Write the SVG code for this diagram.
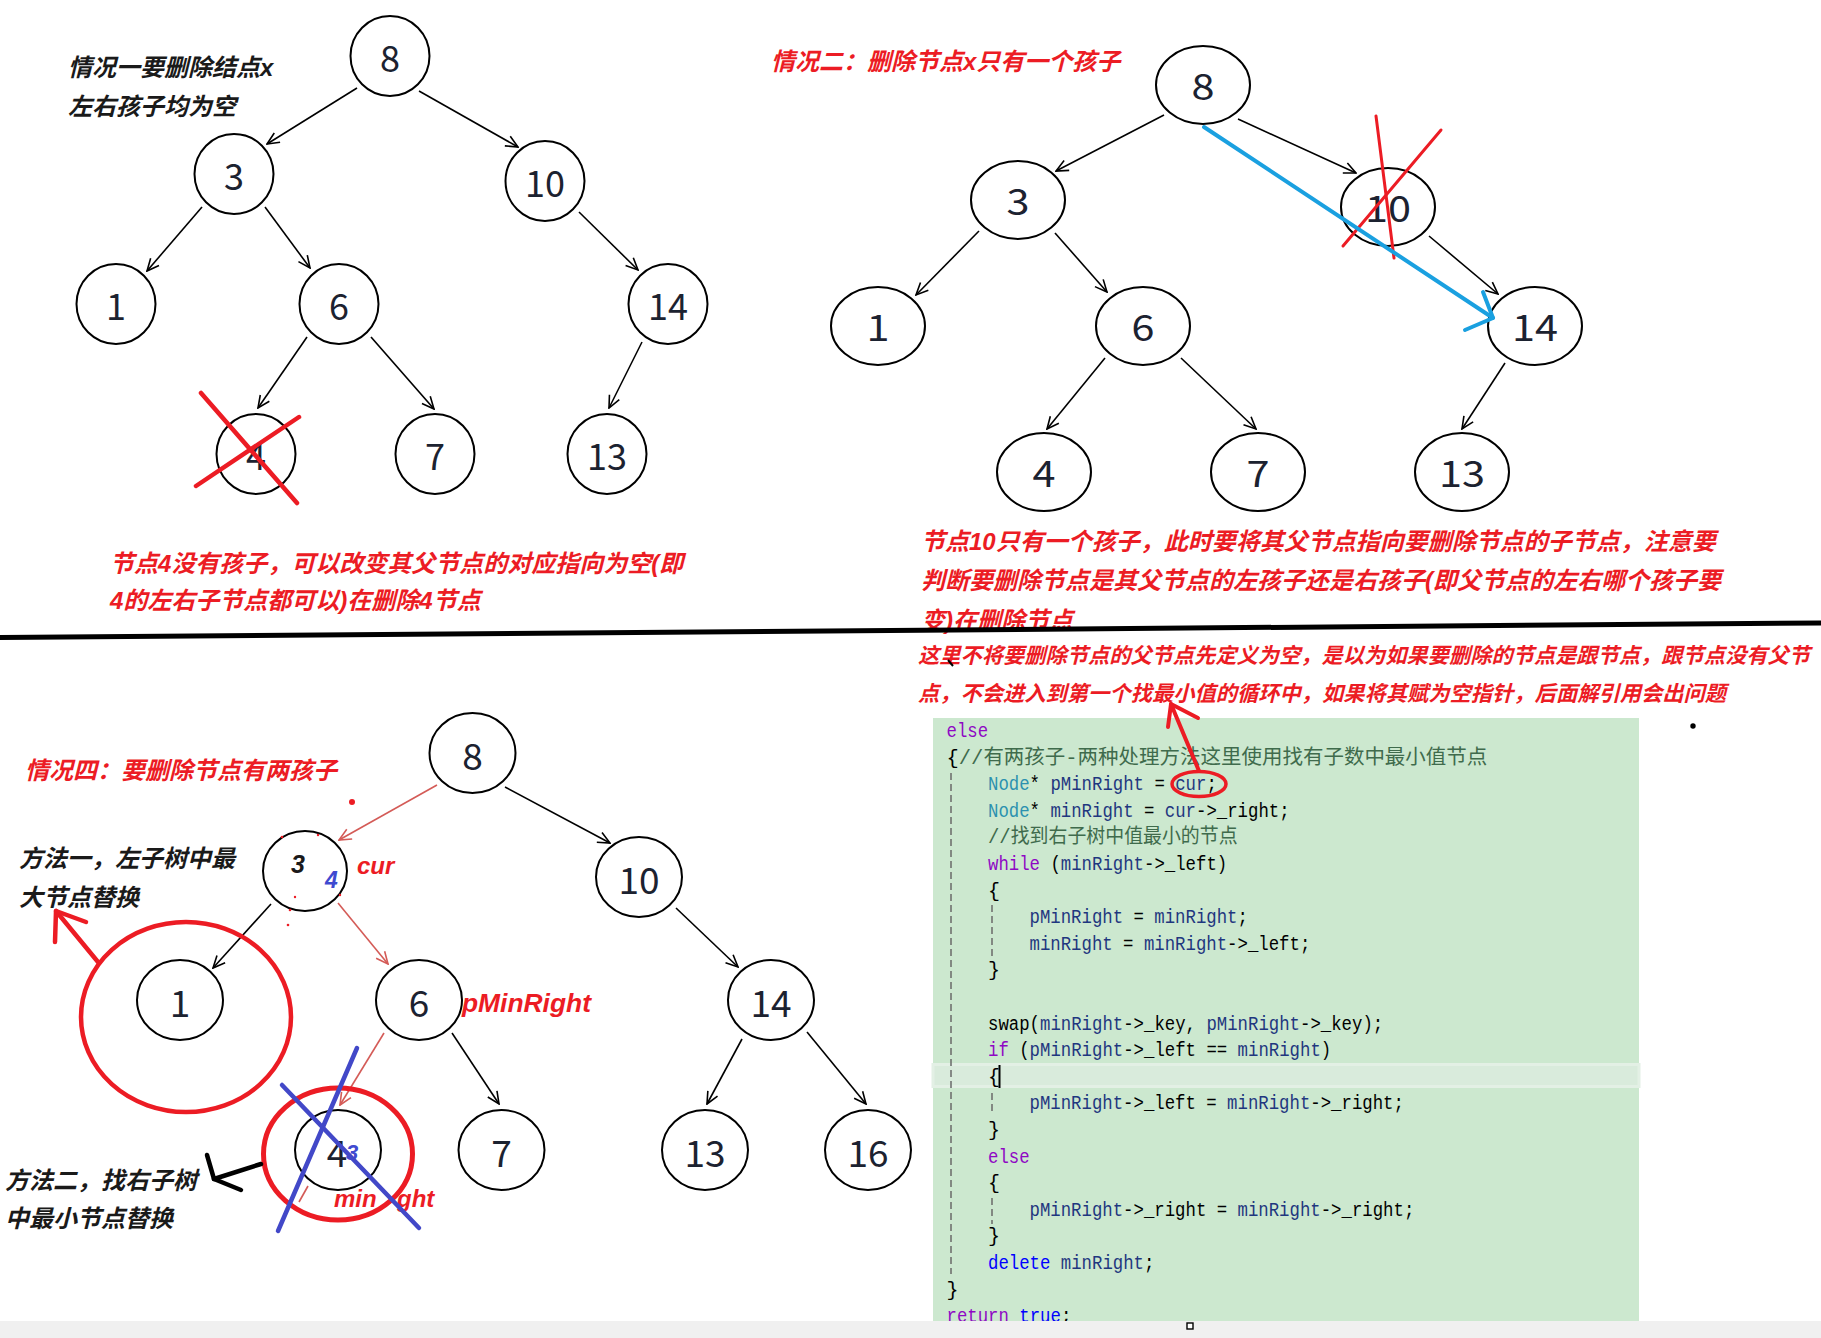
<svg xmlns="http://www.w3.org/2000/svg" width="1821" height="1338" viewBox="0 0 1821 1338">
<style>
  .nd{fill:#fff;stroke:#000;stroke-width:2}
  .num{font-family:"Noto Sans CJK SC","Noto Sans",sans-serif;font-size:36px;fill:#1c2230;text-anchor:middle}
  .num4{font-family:"Noto Sans CJK SC","Noto Sans",sans-serif;font-size:37px;fill:#1c2230;text-anchor:middle}
  .ed{stroke:#000;stroke-width:1.6;fill:none}
  .edr{stroke:#d45b57;stroke-width:1.6;fill:none}
  .ann{font-family:"Liberation Sans","Noto Sans CJK SC",sans-serif;font-weight:bold;font-style:italic}
  .red{fill:#ec1c24}
  .blk{fill:#1a1a1a}
  .blu{fill:#3f4ad0}
  .code{font-family:"Liberation Mono","Noto Sans CJK SC",monospace;font-size:20px;fill:#000}
  .k{fill:#8f08c4}
  .b{fill:#0000ff}
  .t{fill:#2b91af}
  .v{fill:#1f377f}
  .c{fill:#3f6b4c}
  .guide{stroke:#6a6a6a;stroke-width:1.5;stroke-dasharray:7 4;fill:none}
  .mark{fill:none;stroke-linecap:round;stroke-linejoin:round}
</style>
<defs>
  <marker id="ab" viewBox="0 0 14 14" refX="13" refY="7" markerWidth="14" markerHeight="14" markerUnits="userSpaceOnUse" orient="auto">
    <path d="M1,1.5 L13,7 L1,12.5" fill="none" stroke="#000" stroke-width="1.6"/>
  </marker>
  <marker id="ar" viewBox="0 0 14 14" refX="13" refY="7" markerWidth="14" markerHeight="14" markerUnits="userSpaceOnUse" orient="auto">
    <path d="M1,1.5 L13,7 L1,12.5" fill="none" stroke="#d45b57" stroke-width="1.6"/>
  </marker>
</defs>
<rect x="0" y="0" width="1821" height="1338" fill="#fff"/>

<!-- ===== Connectors ===== -->
<g id="connectors">
  <!-- case 1 -->
  <line class="ed" x1="357" y1="88" x2="267" y2="144" marker-end="url(#ab)"/>
  <line class="ed" x1="419" y1="91" x2="518" y2="147" marker-end="url(#ab)"/>
  <line class="ed" x1="202" y1="207" x2="147" y2="271" marker-end="url(#ab)"/>
  <line class="ed" x1="265" y1="207" x2="310" y2="268" marker-end="url(#ab)"/>
  <line class="ed" x1="579" y1="212" x2="638" y2="270" marker-end="url(#ab)"/>
  <line class="ed" x1="307" y1="337" x2="258" y2="408" marker-end="url(#ab)"/>
  <line class="ed" x1="371" y1="337" x2="434" y2="409" marker-end="url(#ab)"/>
  <line class="ed" x1="642" y1="342" x2="609" y2="408" marker-end="url(#ab)"/>
  <!-- case 2 -->
  <line class="ed" x1="1164" y1="115" x2="1056" y2="171" marker-end="url(#ab)"/>
  <line class="ed" x1="1238" y1="119" x2="1356" y2="173" marker-end="url(#ab)"/>
  <line class="ed" x1="979" y1="231" x2="916" y2="295" marker-end="url(#ab)"/>
  <line class="ed" x1="1055" y1="233" x2="1107" y2="292" marker-end="url(#ab)"/>
  <line class="ed" x1="1429" y1="236" x2="1498" y2="294" marker-end="url(#ab)"/>
  <line class="ed" x1="1105" y1="358" x2="1047" y2="429" marker-end="url(#ab)"/>
  <line class="ed" x1="1181" y1="358" x2="1256" y2="429" marker-end="url(#ab)"/>
  <line class="ed" x1="1505" y1="363" x2="1462" y2="429" marker-end="url(#ab)"/>
  <!-- case 4 -->
  <line class="edr" x1="437" y1="785" x2="339" y2="840" marker-end="url(#ar)"/>
  <line class="ed" x1="505" y1="787" x2="610" y2="843" marker-end="url(#ab)"/>
  <line class="ed" x1="271" y1="904" x2="213" y2="968" marker-end="url(#ab)"/>
  <line class="edr" x1="338" y1="903" x2="388" y2="964" marker-end="url(#ar)"/>
  <line class="ed" x1="676" y1="908" x2="738" y2="967" marker-end="url(#ab)"/>
  <line class="edr" x1="384" y1="1033" x2="340" y2="1105" marker-end="url(#ar)"/>
  <line class="ed" x1="452" y1="1033" x2="499" y2="1104" marker-end="url(#ab)"/>
  <line class="ed" x1="742" y1="1039" x2="707" y2="1104" marker-end="url(#ab)"/>
  <line class="ed" x1="807" y1="1032" x2="866" y2="1104" marker-end="url(#ab)"/>
  <line class="edr" x1="308" y1="1186" x2="299" y2="1202"/>
</g>

<!-- ===== Case 1 nodes ===== -->
<g id="c1-n8"><ellipse class="nd" cx="390" cy="56" rx="39.5" ry="40"/><text class="num" x="390" y="72">8</text></g>
<g id="c1-n3"><ellipse class="nd" cx="234" cy="174" rx="39.5" ry="40"/><text class="num" x="234" y="190">3</text></g>
<g id="c1-n10"><ellipse class="nd" cx="545" cy="181" rx="39.5" ry="40"/><text class="num" x="545" y="197">10</text></g>
<g id="c1-n1"><ellipse class="nd" cx="116" cy="304" rx="39.5" ry="40"/><text class="num" x="116" y="320">1</text></g>
<g id="c1-n6"><ellipse class="nd" cx="339" cy="304" rx="39.5" ry="40"/><text class="num" x="339" y="320">6</text></g>
<g id="c1-n14"><ellipse class="nd" cx="668" cy="304" rx="39.5" ry="40"/><text class="num" x="668" y="320">14</text></g>
<g id="c1-n4"><ellipse class="nd" cx="256" cy="454" rx="39.5" ry="40"/><text class="num" x="256" y="470">4</text></g>
<g id="c1-n7"><ellipse class="nd" cx="435" cy="454" rx="39.5" ry="40"/><text class="num" x="435" y="470">7</text></g>
<g id="c1-n13"><ellipse class="nd" cx="607" cy="454" rx="39.5" ry="40"/><text class="num" x="607" y="470">13</text></g>

<!-- ===== Case 2 nodes ===== -->
<g id="c2-n8"><ellipse class="nd" cx="1203" cy="85" rx="47" ry="39"/><text class="num" transform="translate(1203,100) scale(1.15,1)">8</text></g>
<g id="c2-n3"><ellipse class="nd" cx="1018" cy="200" rx="47" ry="39"/><text class="num" transform="translate(1018,215) scale(1.15,1)">3</text></g>
<g id="c2-n10"><ellipse class="nd" cx="1388" cy="207" rx="47" ry="39"/><text class="num" transform="translate(1388,222) scale(1.15,1)">10</text></g>
<g id="c2-n1"><ellipse class="nd" cx="878" cy="326" rx="47" ry="39"/><text class="num" transform="translate(878,341) scale(1.15,1)">1</text></g>
<g id="c2-n6"><ellipse class="nd" cx="1143" cy="326" rx="47" ry="39"/><text class="num" transform="translate(1143,341) scale(1.15,1)">6</text></g>
<g id="c2-n14"><ellipse class="nd" cx="1535" cy="326" rx="47" ry="39"/><text class="num" transform="translate(1535,341) scale(1.15,1)">14</text></g>
<g id="c2-n4"><ellipse class="nd" cx="1044" cy="472" rx="47" ry="39"/><text class="num" transform="translate(1044,487) scale(1.15,1)">4</text></g>
<g id="c2-n7"><ellipse class="nd" cx="1258" cy="472" rx="47" ry="39"/><text class="num" transform="translate(1258,487) scale(1.15,1)">7</text></g>
<g id="c2-n13"><ellipse class="nd" cx="1462" cy="472" rx="47" ry="39"/><text class="num" transform="translate(1462,487) scale(1.15,1)">13</text></g>

<!-- ===== Case 4 nodes ===== -->
<g id="c4-n8"><ellipse class="nd" cx="472.5" cy="753" rx="43" ry="40"/><text class="num4" x="472.5" y="770">8</text></g>
<g id="c4-n3"><ellipse class="nd" cx="305" cy="871" rx="42" ry="40"/>
  <text class="ann blk" x="291" y="873" font-size="25">3</text>
  <text class="ann blu" x="325" y="888" font-size="23">4</text></g>
<g id="c4-n10"><ellipse class="nd" cx="639" cy="877" rx="43" ry="40"/><text class="num4" x="639" y="894">10</text></g>
<g id="c4-n1"><ellipse class="nd" cx="180" cy="1000" rx="43" ry="40"/><text class="num4" x="180" y="1017">1</text></g>
<g id="c4-n6"><ellipse class="nd" cx="419" cy="1000" rx="43" ry="40"/><text class="num4" x="419" y="1017">6</text></g>
<g id="c4-n14"><ellipse class="nd" cx="771" cy="1000" rx="43" ry="40"/><text class="num4" x="771" y="1017">14</text></g>
<g id="c4-n4"><ellipse class="nd" cx="338" cy="1150" rx="43" ry="40"/><text class="num4" x="337" y="1167">4</text>
  <text class="ann blu" x="346" y="1160" font-size="22">3</text></g>
<g id="c4-n7"><ellipse class="nd" cx="501.5" cy="1150" rx="43" ry="40"/><text class="num4" x="501.5" y="1167">7</text></g>
<g id="c4-n13"><ellipse class="nd" cx="705" cy="1150" rx="43" ry="40"/><text class="num4" x="705" y="1167">13</text></g>
<g id="c4-n16"><ellipse class="nd" cx="868" cy="1150" rx="43" ry="40"/><text class="num4" x="868" y="1167">16</text></g>

<!-- ===== Case 1 annotations ===== -->
<text class="ann blk" x="68" y="76" font-size="24">情况一要删除结点x</text>
<text class="ann blk" x="68" y="115" font-size="24">左右孩子均为空</text>
<g class="mark" stroke="#ec1c24" stroke-width="4.5">
  <line x1="201" y1="393" x2="297" y2="503"/>
  <line x1="196" y1="486" x2="299" y2="417"/>
</g>
<text class="ann red" x="110" y="572" font-size="24">节点4没有孩子，可以改变其父节点的对应指向为空(即</text>
<text class="ann red" x="110" y="609" font-size="24">4的左右子节点都可以)在删除4节点</text>

<!-- ===== Case 2 annotations ===== -->
<text class="ann red" x="771" y="70" font-size="24">情况二：删除节点x只有一个孩子</text>
<g class="mark" stroke="#ec1c24" stroke-width="3">
  <line x1="1376" y1="116" x2="1394" y2="258"/>
  <line x1="1441" y1="130" x2="1343" y2="246"/>
</g>
<g class="mark" stroke="#1aa0e0" stroke-width="4">
  <line x1="1204" y1="127" x2="1493" y2="318"/>
  <polyline points="1483,292 1493,318 1465,330"/>
</g>
<text class="ann red" x="921" y="550" font-size="24">节点10只有一个孩子，此时要将其父节点指向要删除节点的子节点，注意要</text>
<text class="ann red" x="921" y="589" font-size="24">判断要删除节点是其父节点的左孩子还是右孩子(即父节点的左右哪个孩子要</text>
<text class="ann red" x="921" y="629" font-size="24">变)在删除节点</text>

<!-- divider -->
<line x1="0" y1="637.5" x2="1821" y2="623" stroke="#000" stroke-width="5"/>

<!-- right red note -->
<text class="ann red" x="918" y="663" font-size="21.3" textLength="892" lengthAdjust="spacingAndGlyphs">这里不将要删除节点的父节点先定义为空，是以为如果要删除的节点是跟节点，跟节点没有父节</text>
<text class="ann red" x="918" y="701" font-size="21.3" textLength="808" lengthAdjust="spacingAndGlyphs">点，不会进入到第一个找最小值的循环中，如果将其赋为空指针，后面解引用会出问题</text>
<line x1="948" y1="660" x2="953" y2="666" stroke="#000" stroke-width="2"/>
<circle cx="1693" cy="726" r="2.7" fill="#000"/>

<!-- ===== Code block ===== -->
<g id="code">
  <rect x="933" y="718" width="706" height="604" fill="#cce8cf"/>
  <rect x="933" y="1064.5" width="706" height="22" fill="#d9ebdc" stroke="#e3f0e5" stroke-width="3"/>
  <line class="guide" x1="951" y1="773" x2="951" y2="1274"/>
  <line class="guide" x1="992" y1="905" x2="992" y2="958"/>
  <line class="guide" x1="992" y1="1093" x2="992" y2="1114"/>
  <line class="guide" x1="992" y1="1198" x2="992" y2="1224"/>
  <text class="code" x="946.5" y="737" textLength="41.6" lengthAdjust="spacingAndGlyphs"><tspan class="k">else</tspan></text>
  <text class="code" x="946.5" y="763.6" textLength="540.8" lengthAdjust="spacingAndGlyphs">{<tspan class="c">//有两孩子-两种处理方法这里使用找有子数中最小值节点</tspan></text>
  <text class="code" x="988" y="790.2" textLength="228.8" lengthAdjust="spacingAndGlyphs"><tspan class="t">Node</tspan>* <tspan class="v">pMinRight</tspan> = <tspan class="v">cur</tspan>;</text>
  <text class="code" x="988" y="816.8" textLength="301.6" lengthAdjust="spacingAndGlyphs"><tspan class="t">Node</tspan>* <tspan class="v">minRight</tspan> = <tspan class="v">cur</tspan>-&gt;_right;</text>
  <text class="code" x="988" y="843.4" textLength="249.6" lengthAdjust="spacingAndGlyphs"><tspan class="c">//找到右子树中值最小的节点</tspan></text>
  <text class="code" x="988" y="870" textLength="239.2" lengthAdjust="spacingAndGlyphs"><tspan class="k">while</tspan> (<tspan class="v">minRight</tspan>-&gt;_left)</text>
  <text class="code" x="988" y="896.6">{</text>
  <text class="code" x="1029.5" y="923.2" textLength="218.4" lengthAdjust="spacingAndGlyphs"><tspan class="v">pMinRight</tspan> = <tspan class="v">minRight</tspan>;</text>
  <text class="code" x="1029.5" y="949.8" textLength="280.8" lengthAdjust="spacingAndGlyphs"><tspan class="v">minRight</tspan> = <tspan class="v">minRight</tspan>-&gt;_left;</text>
  <text class="code" x="988" y="976.4">}</text>
  <text class="code" x="988" y="1029.6" textLength="395.2" lengthAdjust="spacingAndGlyphs">swap(<tspan class="v">minRight</tspan>-&gt;_key, <tspan class="v">pMinRight</tspan>-&gt;_key);</text>
  <text class="code" x="988" y="1056.2" textLength="343.2" lengthAdjust="spacingAndGlyphs"><tspan class="k">if</tspan> (<tspan class="v">pMinRight</tspan>-&gt;_left == <tspan class="v">minRight</tspan>)</text>
  <text class="code" x="988" y="1082.8">{</text>
  <line x1="999.5" y1="1065" x2="999.5" y2="1088" stroke="#000" stroke-width="2"/>
  <text class="code" x="1029.5" y="1109.4" textLength="374.4" lengthAdjust="spacingAndGlyphs"><tspan class="v">pMinRight</tspan>-&gt;_left = <tspan class="v">minRight</tspan>-&gt;_right;</text>
  <text class="code" x="988" y="1136">}</text>
  <text class="code" x="988" y="1162.6" textLength="41.6" lengthAdjust="spacingAndGlyphs"><tspan class="k">else</tspan></text>
  <text class="code" x="988" y="1189.2">{</text>
  <text class="code" x="1029.5" y="1215.8" textLength="384.8" lengthAdjust="spacingAndGlyphs"><tspan class="v">pMinRight</tspan>-&gt;_right = <tspan class="v">minRight</tspan>-&gt;_right;</text>
  <text class="code" x="988" y="1242.4">}</text>
  <text class="code" x="988" y="1269" textLength="166.4" lengthAdjust="spacingAndGlyphs"><tspan class="b">delete</tspan> <tspan class="v">minRight</tspan>;</text>
  <text class="code" x="946.5" y="1295.6">}</text>
  <text class="code" x="946.5" y="1322.2" textLength="124.8" lengthAdjust="spacingAndGlyphs"><tspan class="k">return</tspan> <tspan class="b">true</tspan>;</text>
  <ellipse cx="1199" cy="784" rx="27" ry="12.5" fill="none" stroke="#ec1c24" stroke-width="3.5"/>
  <g class="mark" stroke="#ec1c24" stroke-width="4">
    <line x1="1199" y1="771" x2="1171" y2="704"/>
    <polyline points="1168,727 1171,704 1198,718"/>
  </g>
</g>

<!-- ===== Case 4 annotations ===== -->
<text class="ann red" x="25" y="779" font-size="24">情况四：要删除节点有两孩子</text>
<circle cx="352" cy="802" r="3" fill="#ec1c24"/>
<g fill="#ec1c24">
  <circle cx="282" cy="837" r="1.3"/><circle cx="318" cy="835" r="1.2"/>
  <circle cx="295" cy="897" r="1.2"/><circle cx="290" cy="910" r="1.3"/>
  <circle cx="288" cy="925" r="1.3"/><circle cx="340" cy="895" r="1.2"/>
</g>
<text class="ann red" x="357" y="874" font-size="24">cur</text>
<text class="ann red" x="462" y="1012" font-size="25" textLength="129" lengthAdjust="spacingAndGlyphs">pMinRight</text>
<text class="ann blk" x="19" y="867" font-size="24">方法一，左子树中最</text>
<text class="ann blk" x="19" y="906" font-size="24">大节点替换</text>
<text class="ann blk" x="5" y="1189" font-size="24">方法二，找右子树</text>
<text class="ann blk" x="5" y="1227" font-size="24">中最小节点替换</text>
<ellipse cx="186" cy="1017" rx="105" ry="95" fill="none" stroke="#ec1c24" stroke-width="4.5"/>
<g class="mark" stroke="#ec1c24" stroke-width="4.5">
  <line x1="98" y1="962" x2="56" y2="911"/>
  <polyline points="55,942 56,911 86,922"/>
</g>
<text class="ann red" x="334" y="1207" font-size="24">min</text>
<text class="ann red" x="397" y="1207" font-size="24">ght</text>
<ellipse cx="338" cy="1154" rx="74.5" ry="66" fill="none" stroke="#ec1c24" stroke-width="5"/>
<g class="mark" stroke="#4248c8" stroke-width="4.5">
  <line x1="357" y1="1048" x2="278" y2="1231"/>
  <line x1="282" y1="1085" x2="419" y2="1228"/>
</g>
<g class="mark" stroke="#000" stroke-width="4.5">
  <line x1="261" y1="1164" x2="214" y2="1179"/>
  <polyline points="207,1155 214,1179 241,1190"/>
</g>

<!-- bottom strip -->
<rect x="0" y="1321" width="1821" height="17" fill="#f0f0f0"/>
<rect x="1187" y="1323" width="6" height="6" fill="#fff" stroke="#000" stroke-width="1.4"/>
</svg>
